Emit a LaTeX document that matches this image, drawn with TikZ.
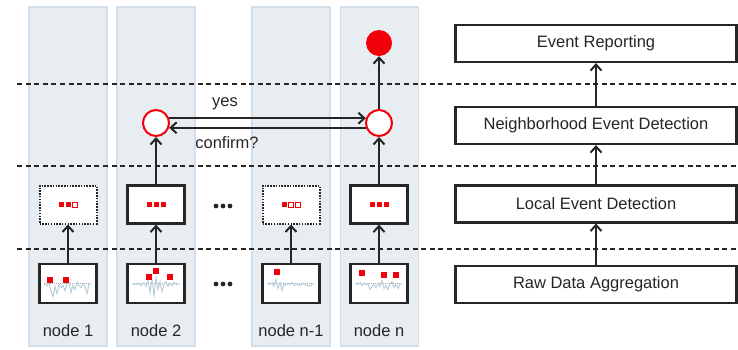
\documentclass[tikz,border=0pt]{standalone}
\usepackage{fontspec}
\setmainfont{Liberation Sans}
\usetikzlibrary{arrows.meta}
\definecolor{colfill}{HTML}{E8EDF2}
\definecolor{coledge}{HTML}{D3DEE8}
\definecolor{ink}{HTML}{262626}
\definecolor{evred}{HTML}{F2000A}
\definecolor{wave}{HTML}{B9CFDD}
\begin{document}
\begin{tikzpicture}[x=1pt,y=-1pt,
  font=\fontsize{16.5}{19}\selectfont, text=ink,
  column/.style={draw=coledge, fill=colfill, line width=1.4pt, minimum width=78pt, minimum height=339pt, inner sep=0pt},
  layerbox/.style={draw=ink, line width=2.2pt, fill=white, minimum width=281pt, minimum height=37pt, inner sep=0pt},
  localbox/.style={draw=ink, line width=2.2pt, fill=white, minimum width=57pt, minimum height=38pt, inner sep=0pt},
  guessbox/.style={localbox, line width=2pt, dash pattern=on 1.5pt off 1.3pt},
  rawbox/.style={draw=ink, line width=2.2pt, fill=white, minimum width=57pt, minimum height=39pt, inner sep=0pt},
  evcircle/.style={circle, draw=evred, line width=2pt, fill=white, minimum size=26pt, inner sep=0pt},
  evdot/.style={circle, fill=evred, minimum size=26pt, inner sep=0pt},
  arr/.style={draw=ink, line width=2pt, -{Straight Barb[length=6pt,width=11pt,line width=2pt]}},
  layerline/.style={draw=ink, line width=2pt, dash pattern=on 5pt off 3.6pt},
  sqon/.style={fill=evred},
  sqoff/.style={draw=evred, fill=white, line width=0.7pt},
  wavel/.style={draw=wave, line width=1pt},
  baseline/.style={draw=gray!70, line width=0.6pt, dash pattern=on 1pt off 1pt},
  lbl/.style={inner sep=1pt}
]
\useasboundingbox (0,0) rectangle (738,349);

% columns
\node[column] (col1) at (68,176.5) {};
\node[column] (col2) at (156,176.5) {};
\node[column] (col3) at (291,176.5) {};
\node[column] (col4) at (379.5,176.5) {};

% layer separators
\draw[layerline] (17,84) -- (738,84);
\draw[layerline] (17,166) -- (738,166);
\draw[layerline] (17,249) -- (738,249);

% right-hand layer boxes
\node[layerbox] (rep) at (596,43.5) {Event Reporting};
\node[layerbox] (nbr) at (596,125.5) {Neighborhood Event Detection};
\node[layerbox] (loc) at (596,204) {Local Event Detection};
\node[layerbox] (raw) at (596,284.5) {Raw Data Aggregation};
\draw[arr] (raw.north) -- (loc.south);
\draw[arr] (loc.north) -- (nbr.south);
\draw[arr] (nbr.north) -- (rep.south);

% raw data boxes
\node[rawbox] (r1) at (68,283.5) {};
\node[rawbox] (r2) at (156,283.5) {};
\node[rawbox] (r3) at (291,283.5) {};
\node[rawbox] (r4) at (379,283.5) {};

% local detection boxes
\node[guessbox] (m1) at (68,204.5) {};
\node[localbox] (m2) at (156,204.5) {};
\node[guessbox] (m3) at (291,204.5) {};
\node[localbox] (m4) at (379,204.5) {};

% circles
\node[evcircle] (c2) at (156,123) {};
\node[evcircle] (c4) at (379,123) {};
\node[evdot] (top) at (379,43) {};

% connectors
\draw[arr] (r1.north) -- (m1.south);
\draw[arr] (r2.north) -- (m2.south);
\draw[arr] (r3.north) -- (m3.south);
\draw[arr] (r4.north) -- (m4.south);
\draw[arr] (m2.north) -- (c2.south);
\draw[arr] (m4.north) -- (c4.south);
\draw[arr] (c4.north) -- (top.south);
\draw[arr] (c2.20) -- (c4.160);
\draw[arr] (c4.-160) -- (c2.-20);
\node[lbl] (yes) at (225,104) {yes};
\node[lbl] (conf) at (227,143) {confirm?};

% node labels
\node[lbl] (n1) at (68,331) {node 1};
\node[lbl] (n2) at (156,331) {node 2};
\node[lbl] (n3) at (291,331) {node n-1};
\node[lbl] (n4) at (379,331) {node n};

% ellipses
\foreach \yy in {206,284} {
  \foreach \xx in {216,223,230} \fill[ink] (\xx,\yy) circle (2.4);
}

% squares in local boxes
\begin{scope}[shift={(m1.center)}]
  \fill[sqon] (-9.5,-2.5) rectangle (-4.5,2.5);
  \fill[sqon] (-2.5,-2.5) rectangle (2.5,2.5);
  \draw[sqoff] (4.5,-2.5) rectangle (9.5,2.5);
\end{scope}
\begin{scope}[shift={(m2.center)}]
  \fill[sqon] (-9.5,-2.5) rectangle (-4.5,2.5);
  \fill[sqon] (-2.5,-2.5) rectangle (2.5,2.5);
  \fill[sqon] (4.5,-2.5) rectangle (9.5,2.5);
\end{scope}
\begin{scope}[shift={(m3.center)}]
  \fill[sqon] (-9.5,-2.5) rectangle (-4.5,2.5);
  \draw[sqoff] (-2.5,-2.5) rectangle (2.5,2.5);
  \draw[sqoff] (4.5,-2.5) rectangle (9.5,2.5);
\end{scope}
\begin{scope}[shift={(m4.center)}]
  \fill[sqon] (-9.5,-2.5) rectangle (-4.5,2.5);
  \fill[sqon] (-2.5,-2.5) rectangle (2.5,2.5);
  \fill[sqon] (4.5,-2.5) rectangle (9.5,2.5);
\end{scope}

% raw data traces
\begin{scope}[shift={(r1.center)}]
  \draw[baseline] (-24,-0.5) -- (24,-0.5);
  \draw[wavel] plot coordinates {(-24,1) (-21,2) (-19,-1) (-17,8) (-15,13) (-13,3) (-11,10) (-9,1) (-7,4) (-5,2) (-3,7) (-1,1) (1,-1) (3,9) (5,2) (7,6) (9,-1) (11,2) (13,4) (15,0) (17,3) (19,10) (21,1) (23,0)};
  \fill[sqon] (-21,-6.5) rectangle (-15,-0.5);
  \fill[sqon] (-5,-6.5) rectangle (1,-0.5);
\end{scope}
\begin{scope}[shift={(r2.center)}]
  \draw[baseline] (-24,-0.5) -- (24,-0.5);
  \draw[wavel] plot coordinates {(-24,0) (-21,1) (-18,0) (-15,2) (-12,-1) (-10,3) (-8,-3) (-6,9) (-4,-4) (-2,12) (0,-6) (2,6) (4,-2) (6,8) (8,1) (10,-2) (12,3) (14,0) (16,2) (18,-1) (20,1) (23,0)};
  \fill[sqon] (-10,-9.5) rectangle (-4,-3.5);
  \fill[sqon] (-3,-15.5) rectangle (3,-9.5);
  \fill[sqon] (11,-9.5) rectangle (17,-3.5);
\end{scope}
\begin{scope}[shift={(r3.center)}]
  \draw[baseline] (-24,-0.5) -- (24,-0.5);
  \draw[wavel] plot coordinates {(-24,0) (-21,1) (-19,-1) (-17,3) (-15,-4) (-13,5) (-11,-1) (-9,7) (-7,0) (-5,2) (-3,0) (-1,1) (1,-1) (3,2) (6,1) (9,2) (12,0) (15,1) (18,3) (21,1) (23,0)};
  \fill[sqon] (-17,-14.5) rectangle (-11,-8.5);
\end{scope}
\begin{scope}[shift={(r4.center)}]
  \draw[baseline] (-24,-0.5) -- (24,-0.5);
  \draw[wavel] plot coordinates {(-24,0) (-21,1) (-19,-1) (-17,2) (-15,0) (-13,1) (-11,0) (-9,6) (-7,3) (-5,1) (-3,4) (-1,0) (1,3) (3,-3) (5,5) (7,2) (9,6) (11,0) (13,-2) (15,4) (17,1) (19,5) (21,1) (23,0)};
  \fill[sqon] (-20,-13.5) rectangle (-14,-7.5);
  \fill[sqon] (2,-11.5) rectangle (8,-5.5);
  \fill[sqon] (14,-11.5) rectangle (20,-5.5);
\end{scope}
\end{tikzpicture}
\end{document}
